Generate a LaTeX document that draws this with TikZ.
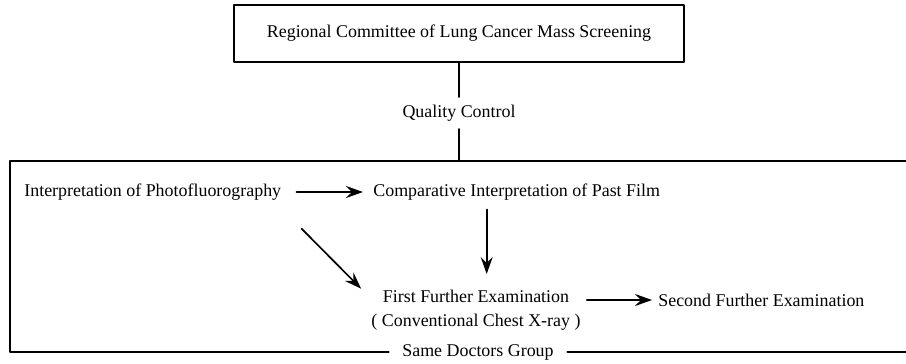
\documentclass[tikz,border=0pt]{standalone}
\usepackage{fontspec}
\setmainfont{Liberation Serif}
\usetikzlibrary{positioning,calc,arrows.meta}

\begin{document}
\begin{tikzpicture}[x=0.02cm, y=-0.02cm, line cap=round, line join=round, font=\fontsize{10.2}{12.4}\selectfont]
				\useasboundingbox (0,0) rectangle (906,363);
				% ---- styles ----
				\tikzset{label/.style={inner sep=0pt, align=center},
					flow/.style={-{Stealth[length=3.4mm, width=2.4mm, inset=1.2mm]}, line width=0.95pt}}
				
				% ---- khung lớn (đặt giống hình) ----
				\coordinate (TL) at (10,161);
				\coordinate (TR) at (906,161);
				\coordinate (BL) at (10,352);
				\coordinate (BR) at (906,352);
				
				% ---- các nút chữ ----
				\node[draw, line width=1.2pt, minimum width=9cm, minimum height=1.14cm] (nReg) at (459,33.5)
				{Regional Committee of Lung Cancer Mass Screening};
				\node[label, inner sep=0.15cm] (nQC) at (459,113) {Quality Control};
				\node[label, anchor=west] (nIP) at (24,192) {Interpretation of Photofluorography};
				\node[label, anchor=west] (nCIP) at (373,192) {Comparative Interpretation of Past Film};
				\node[label] (nFFE) at (476,310) {First Further Examination\\[1pt]( Conventional Chest X-ray )};
				\node[label, anchor=west] (nSFE) at (658,300) {Second Further Examination};
				\node[label, inner xsep=0.27cm] (nSDG) at (478,352) {Same Doctors Group};
				
				% ---- khung + đường nối ----
				\draw[line width=1.2pt] (nSDG.west) -- (BL) -- (TL) -- (TR);
				\draw[line width=1.2pt] (nSDG.east) -- (BR);
				\draw[line width=1.1pt] (nReg.south) -- (nQC.north);
				\draw[line width=1.1pt] (nQC.south) -- (nQC.south |- TL);
				
				% ---- mũi tên ----
				\draw[flow, shorten <=0.3cm, shorten >=0.2cm] (nIP.east) -- (nCIP.west);
				\draw[flow] ([xshift=-0.6cm, yshift=-0.18cm]nCIP.south) -- ([xshift=-0.6cm]nCIP.south |- 0,274);
				\draw[flow] ([xshift=0.4cm, yshift=-0.56cm]nIP.south east) -- ([xshift=-0.2cm, yshift=0.02cm]nFFE.north west);
				\draw[flow, shorten <=0.12cm, shorten >=0.12cm] (nFFE.east |- nSFE) -- (nSFE.west);
			\end{tikzpicture}
\end{document}
